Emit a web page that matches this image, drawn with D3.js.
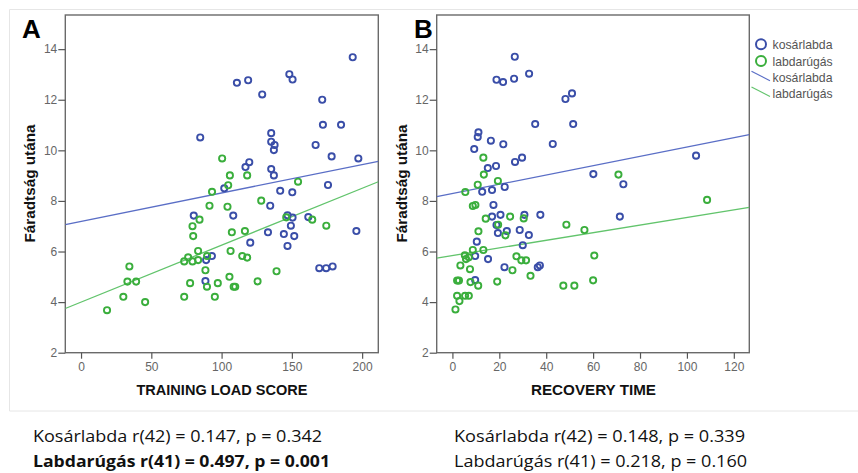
<!DOCTYPE html>
<html><head><meta charset="utf-8">
<script src="https://cdn.jsdelivr.net/npm/d3@7"></script>
<style>body{margin:0;background:#fff}svg{display:block}</style>
</head><body>
<svg id="chart" width="858" height="473"></svg>
<script>
// ---------- DATA ----------
const seriesNames = ["kosárlabda", "labdarúgás"];
const yTicks = [2, 4, 6, 8, 10, 12, 14];
const xTicksA = [0, 50, 100, 150, 200];
const xTicksB = [0, 20, 40, 60, 80, 100, 120];
const yTitle = "Fáradtság utána";
const xTitleA = "TRAINING LOAD SCORE";
const xTitleB = "RECOVERY TIME";

// Panel A: training load score vs. fatigue
const kosarA = [[193.3,13.68],[148.2,13.01],[150.5,12.8],[110.9,12.67],[118.9,12.77],[128.9,12.21],[171.6,12.0],[172.1,11.01],[185,11.01],[84.8,10.51],[135.3,10.68],[135.3,10.34],[137.7,10.21],[137.2,10.01],[166.9,10.21],[178.3,9.76],[197.3,9.68],[119.7,9.53],[117,9.34],[135.3,9.26],[137.2,9.01],[101.9,8.5],[141.7,8.4],[150.3,8.34],[175.7,8.63],[134.6,7.81],[80.2,7.42],[108.3,7.42],[146.9,7.43],[150.5,7.34],[161.7,7.36],[149.3,7.02],[151.7,6.61],[133,6.76],[144.3,6.69],[120.4,6.35],[146.9,6.22],[195.9,6.81],[93.1,5.82],[89,5.66],[88.5,4.83],[169.5,5.34],[174.4,5.34],[179,5.41]];
const labdaA = [[100.4,9.68],[105.9,9.01],[118.2,9.01],[104.7,8.62],[154.4,8.76],[93.2,8.36],[128.2,8.01],[91.4,7.81],[104.2,7.77],[146.0,7.35],[164.5,7.26],[174.5,7.02],[84.3,7.26],[79.3,7.0],[79.8,6.61],[107.3,6.76],[116.6,6.81],[83.3,6.02],[106.4,6.02],[73.4,5.61],[76.2,5.77],[79.3,5.61],[83.3,5.66],[89.7,5.82],[114.7,5.82],[118.2,5.76],[34.4,5.41],[33.0,4.81],[39.2,4.81],[30.1,4.21],[45.6,4.0],[18.5,3.68],[73.4,4.21],[77.6,4.75],[88.5,5.26],[89.6,4.61],[95.2,4.21],[97.3,4.75],[105.6,5.0],[108.6,4.61],[109.7,4.61],[125.6,4.82],[139.1,5.22]];

// Panel B: recovery time vs. fatigue
const kosarB = [[26.6,13.70],[32.7,13.03],[18.8,12.79],[21.6,12.70],[26.3,12.83],[48.2,12.03],[51.0,12.25],[35.3,11.04],[51.5,11.04],[11.1,10.71],[10.8,10.53],[16.4,10.38],[21.7,10.24],[9.3,10.05],[42.8,10.25],[26.7,9.54],[29.7,9.71],[15.1,9.30],[18.6,9.38],[60.1,9.06],[12.7,8.36],[16.9,8.43],[22.3,8.55],[17.5,7.84],[16.9,7.38],[20.5,7.45],[30.7,7.45],[37.5,7.45],[18.8,7.05],[23.2,6.81],[19.4,6.73],[28.7,6.85],[32.6,6.65],[10.4,6.39],[30.0,6.25],[9.7,5.82],[15.2,5.70],[22.2,5.38],[36.4,5.38],[37.3,5.45],[9.7,4.87],[103.9,9.79],[72.9,8.66],[71.4,7.38]];
const labdaB = [[13.2,9.71],[13.4,9.04],[10.8,8.64],[19.4,8.79],[5.5,8.35],[8.7,7.80],[9.8,7.84],[14.2,7.30],[24.6,7.38],[30.4,7.31],[19.5,7.06],[22.6,6.64],[11.1,6.80],[48.6,7.06],[56.3,6.85],[8.7,6.06],[13.2,6.06],[5.3,5.85],[5.8,5.70],[7.0,5.77],[3.4,5.45],[7.5,5.30],[27.3,5.81],[29.4,5.65],[31.4,5.65],[25.6,5.26],[33.3,5.04],[60.5,5.84],[2.0,4.85],[2.8,4.85],[7.7,4.79],[11.0,4.65],[19.1,4.81],[47.3,4.65],[52.0,4.65],[60.0,4.86],[2.0,4.25],[5.4,4.25],[7.0,4.25],[3.0,4.04],[1.3,3.71],[70.8,9.04],[108.6,8.04]];

// Fit lines: [intercept, slope]
const fitA = [[7.19, 0.01124], [4.0, 0.0225]];
const fitB = [[8.29, 0.01838], [5.84, 0.01508]];

const statsA = ["Kosárlabda r(42) = 0.147, p = 0.342", "Labdarúgás r(41) = 0.497, p = 0.001"];
const statsB = ["Kosárlabda r(42) = 0.148, p = 0.339", "Labdarúgás r(41) = 0.218, p = 0.160"];

// ---------- STYLE ----------
const markerColors = ["#3a4ea8", "#3aae3c"];
const lineColors = ["#5a6ec6", "#62c46c"];
const tickFont = "'Liberation Sans', Arial, sans-serif";

const svg = d3.select("#chart");
svg.append("rect").attr("width", 858).attr("height", 473).attr("fill", "#fff");

// faint outer panel edges
const faint = svg.append("g").attr("stroke", "#e6e6e6").attr("stroke-width", 1).attr("fill", "none");
faint.append("path").attr("d", "M9.5,411 V9.5 H858");
faint.append("path").attr("d", "M9.5,411 H858");

function panel(opt) {
  const g = svg.append("g");
  const x = d3.scaleLinear().domain(opt.xDomain).range([opt.left, opt.right]);
  const y = d3.scaleLinear().domain([2, 15.35]).range([352.7, 15]);

  // frame
  g.append("rect").attr("x", opt.left).attr("y", 15)
    .attr("width", opt.right - opt.left).attr("height", 352.7 - 15)
    .attr("fill", "#fff").attr("stroke", "#6a6a6a").attr("stroke-width", 1.4);

  // y axis
  const ya = g.append("g").attr("transform", `translate(${opt.left},0)`)
    .call(d3.axisLeft(y).tickValues(yTicks).tickSize(7).tickPadding(1));
  ya.select(".domain").remove();
  ya.selectAll("line").attr("stroke", "#555").attr("stroke-width", 1.2);
  ya.selectAll("text").attr("fill", "#666").style("font", `12px ${tickFont}`);

  // x axis
  const xa = g.append("g").attr("transform", `translate(0,352.7)`)
    .call(d3.axisBottom(x).tickValues(opt.xTicks).tickSize(6).tickPadding(4));
  xa.select(".domain").remove();
  xa.selectAll("line").attr("stroke", "#555").attr("stroke-width", 1.2);
  xa.selectAll("text").attr("fill", "#666").style("font", `12px ${tickFont}`);

  // clip
  const cid = "clip" + opt.id;
  svg.append("clipPath").attr("id", cid).append("rect")
    .attr("x", opt.left).attr("y", 15).attr("width", opt.right - opt.left).attr("height", 352.7 - 15);

  const plot = g.append("g").attr("clip-path", `url(#${cid})`);
  // fit lines
  opt.fits.forEach((f, i) => {
    const xs = x.domain();
    plot.append("line")
      .attr("x1", x(xs[0])).attr("y1", y(f[0] + f[1] * xs[0]))
      .attr("x2", x(xs[1])).attr("y2", y(f[0] + f[1] * xs[1]))
      .attr("stroke", lineColors[i]).attr("stroke-width", 1.3);
  });
  // points
  opt.series.forEach((s, i) => {
    plot.selectAll(null).data(s).enter().append("circle")
      .attr("cx", d => x(d[0])).attr("cy", d => y(d[1])).attr("r", 3.1)
      .attr("fill", "none").attr("stroke", markerColors[i]).attr("stroke-width", 1.9);
  });

  // titles
  g.append("text").attr("x", (opt.xTitleX)).attr("y", 395)
    .attr("text-anchor", "middle").attr("textLength", opt.xTitleLen).attr("lengthAdjust", "spacingAndGlyphs")
    .style("font", `bold 14px ${tickFont}`).attr("fill", "#111").text(opt.xTitle);
  g.append("text").attr("transform", `translate(${opt.left - 30},183.5) rotate(-90)`)
    .attr("text-anchor", "middle").attr("textLength", 118).attr("lengthAdjust", "spacingAndGlyphs")
    .style("font", `bold 14px ${tickFont}`).attr("fill", "#111").text(yTitle);
  g.append("text").attr("x", opt.letterX).attr("y", 37.5)
    .style("font", `bold 26px ${tickFont}`).attr("fill", "#000").text(opt.letter);

  // stats text
  opt.stats.forEach((t, i) => {
    svg.append("text").attr("x", opt.statsX).attr("y", 442 + i * 25)
      .attr("textLength", opt.statsLen[i]).attr("lengthAdjust", "spacingAndGlyphs")
      .style("font", `${opt.statsBold[i] ? "bold " : ""}16px 'Open Sans', 'Noto Sans', sans-serif`)
      .attr("fill", "#111").text(t);
  });
}

panel({id: "A", left: 65.3, right: 378.3, xDomain: [-11.2, 211.5], xTicks: xTicksA,
  series: [kosarA, labdaA], fits: fitA, xTitle: xTitleA, xTitleX: 222, xTitleLen: 171,
  letter: "A", letterX: 22, stats: statsA, statsX: 33, statsLen: [289, 297], statsBold: [false, true]});
panel({id: "B", left: 436.7, right: 749.3, xDomain: [-6.7, 126.6], xTicks: xTicksB,
  series: [kosarB, labdaB], fits: fitB, xTitle: xTitleB, xTitleX: 593.5, xTitleLen: 125,
  letter: "B", letterX: 414, stats: statsB, statsX: 454, statsLen: [291, 293], statsBold: [false, false]});

// legend
const lg = svg.append("g").style("font", `13px ${tickFont}`);
seriesNames.forEach((n, i) => {
  const cy = 44.3 + i * 16.7;
  lg.append("circle").attr("cx", 761).attr("cy", cy).attr("r", 5)
    .attr("fill", "none").attr("stroke", markerColors[i]).attr("stroke-width", 2);
  lg.append("text").attr("x", 772.5).attr("y", cy + 4.5).attr("fill", "#555")
    .attr("textLength", 60).attr("lengthAdjust", "spacingAndGlyphs").text(n);
});
seriesNames.forEach((n, i) => {
  const cy = 77.7 + i * 15.8;
  lg.append("line").attr("x1", 751.5).attr("y1", cy - 6.5).attr("x2", 770).attr("y2", cy + 3)
    .attr("stroke", lineColors[i]).attr("stroke-width", 1.2);
  lg.append("text").attr("x", 772.5).attr("y", cy + 4.5).attr("fill", "#555")
    .attr("textLength", 60).attr("lengthAdjust", "spacingAndGlyphs").text(n);
});
</script>
</body></html>
